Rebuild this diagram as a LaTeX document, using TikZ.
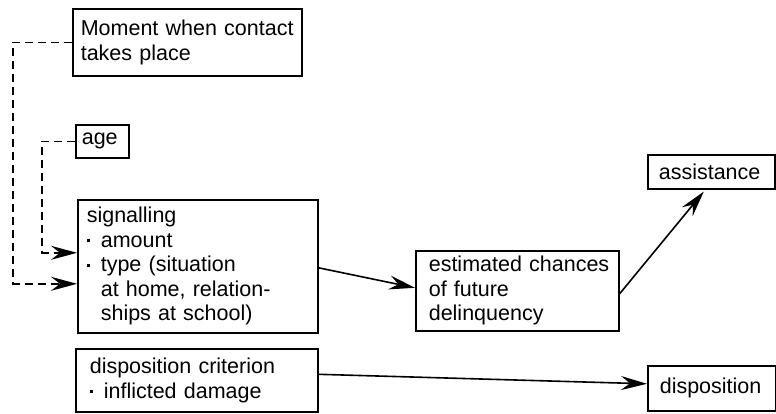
\documentclass[tikz,border=0pt]{standalone}
\usepackage{fontspec}
\setmainfont{Liberation Sans}
\usetikzlibrary{arrows.meta,calc}
\newcommand\bul{\makebox[14pt][l]{\raisebox{5pt}{\rule{3pt}{3pt}}}}
\newcommand\ind{\hspace*{14pt}}
\begin{document}
\begin{tikzpicture}[x=1pt,y=-1pt,
  box/.style={draw,line width=1.6pt,anchor=north west,align=left,inner ysep=0pt,
     font=\fontsize{21.5}{24.5}\selectfont},
  arr/.style={line width=1.6pt,-{Stealth[length=26pt,width=14pt,inset=9pt]}},
  dashline/.style={arr,dash pattern=on 8pt off 5pt}]
\useasboundingbox (0,0) rectangle (776,413);
\node[box,minimum width=229pt,minimum height=67pt,text width=213pt,inner xsep=8pt] (mom) at (72,8)
  {Moment when contact\\takes place};
\node[box,minimum width=53pt,minimum height=33pt,text width=41pt,inner xsep=6pt] (age) at (75,124)
  {age};
\node[box,minimum width=240pt,minimum height=133pt,text width=222pt,inner xsep=9pt] (sig) at (77,199)
  {signalling\\\bul amount\\\bul type (situation\\\ind at home, relation-\\\ind ships at school)};
\node[box,minimum width=203pt,minimum height=80pt,text width=177pt,inner xsep=13pt] (est) at (415,250)
  {\mbox{estimated chances}\\of future\\delinquency};
\node[box,minimum width=127pt,minimum height=34pt,text width=105pt,inner xsep=11pt] (asst) at (647,154)
  {assistance};
\node[box,minimum width=242pt,minimum height=63pt,text width=214pt,inner xsep=14pt] (crit) at (75,348)
  {disposition criterion\\\bul inflicted damage};
\node[box,minimum width=128pt,minimum height=45pt,text width=104pt,inner xsep=12pt] (disp) at (647,365)
  {disposition};
\coordinate (t1) at ($(sig.west)+(0,-13.5)$);
\coordinate (t2) at ($(sig.west)+(0,17.5)$);
\draw[dashline] (mom.west) -- ++(-59,0) |- (t2);
\draw[dashline] (age.west) -- ++(-33,0) |- (t1);
\draw[arr] ($(sig.east)+(0,1.5)$) -- ($(est.west)+(0,-3)$);
\draw[arr] ($(est.east)+(0,3)$) -- ($(asst.south)+(-7.5,2)$);
\draw[arr] ($(crit.east)+(0,-6)$) -- ($(disp.west)+(0,-4.5)$);
\end{tikzpicture}
\end{document}
